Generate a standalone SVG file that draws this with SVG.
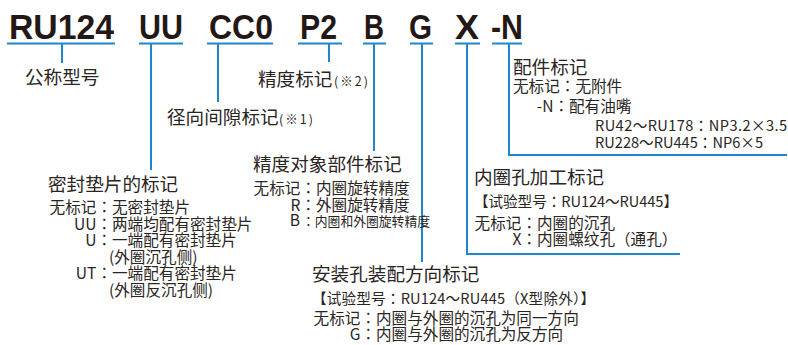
<svg xmlns="http://www.w3.org/2000/svg" width="788" height="345" viewBox="0 0 788 345">
<style>
text{font-family:"Noto Sans CJK JP","Noto Sans CJK SC",sans-serif;fill:#2a2523}
.code{font-family:"Liberation Sans",Arial,sans-serif;font-weight:bold;font-size:35px;fill:#231815}
.t{font-size:18.6px}
.s{font-size:15.6px}
.r{font-size:14.6px}
.xs{font-size:12.8px}
.n{font-size:12.5px}
.e{text-anchor:end}
.ln{fill:none;stroke:#1f86cc;stroke-width:2}
</style>
<rect width="788" height="345" fill="#fff"/>
<g id="code">
<text class="code" x="9" y="38.5" textLength="105" lengthAdjust="spacingAndGlyphs">RU124</text>
<text class="code" x="139" y="38.5" textLength="44" lengthAdjust="spacingAndGlyphs">UU</text>
<text class="code" x="209" y="38.5" textLength="64" lengthAdjust="spacingAndGlyphs">CC0</text>
<text class="code" x="300" y="38.5" textLength="37" lengthAdjust="spacingAndGlyphs">P2</text>
<text class="code" x="364" y="38.5" textLength="20" lengthAdjust="spacingAndGlyphs">B</text>
<text class="code" x="409" y="38.5" textLength="23" lengthAdjust="spacingAndGlyphs">G</text>
<text class="code" x="455" y="38.5" textLength="24" lengthAdjust="spacingAndGlyphs">X</text>
<text class="code" x="491" y="38.5" textLength="32" lengthAdjust="spacingAndGlyphs">-N</text>
</g>
<g id="connectors">
<path class="ln" d="M7 43.5H115M139 43.5H183M207 43.5H273M298 43.5H342M363 43.5H386M410 43.5H433M455 43.5H480M492 43.5H522"/>
<path class="ln" d="M62 43.5V63M151 43.5V170M218 43.5V102M329 43.5V62M374 43.5V151M422 43.5V262"/>
<path class="ln" d="M467 43.5V254H680"/>
<path class="ln" d="M509 43.5V155H787"/>
</g>
<g id="nominal">
<text class="t" x="25" y="83.5">公称型号</text>
</g>
<g id="seal">
<text class="t" x="48" y="190.5">密封垫片的标记</text>
<text class="s" y="213"><tspan class="e" x="112">无标记：</tspan><tspan x="112">无密封垫片</tspan></text>
<text class="s" y="229.5"><tspan class="e" x="112">UU：</tspan><tspan x="112">两端均配有密封垫片</tspan></text>
<text class="s" y="246"><tspan class="e" x="112">U：</tspan><tspan x="112">一端配有密封垫片</tspan></text>
<text class="s" x="109" y="262.5">(外圈沉孔侧)</text>
<text class="s" y="279"><tspan class="e" x="112">UT：</tspan><tspan x="112">一端配有密封垫片</tspan></text>
<text class="s" x="109" y="296">(外圈反沉孔侧)</text>
</g>
<g id="clearance">
<text x="167" y="124"><tspan class="t">径向间隙标记</tspan><tspan class="n" x="279" textLength="34">(※1)</tspan></text>
</g>
<g id="precision">
<text x="258" y="86"><tspan class="t">精度标记</tspan><tspan class="n" x="334" textLength="34">(※2)</tspan></text>
</g>
<g id="precision-part">
<text class="t" x="253" y="170.5">精度对象部件标记</text>
<text class="s" y="194"><tspan class="e" x="316">无标记：</tspan><tspan x="316">内圈旋转精度</tspan></text>
<text class="s" y="210.5"><tspan class="e" x="316">R：</tspan><tspan x="316">外圈旋转精度</tspan></text>
<text y="226"><tspan class="s e" x="300">B</tspan><tspan class="xs" x="302">：内圈和外圈旋转精度</tspan></text>
</g>
<g id="mounting">
<text class="t" x="312" y="281">安装孔装配方向标记</text>
<text class="r" x="312" y="303.5" textLength="283">【试验型号：RU124～RU445（X型除外）】</text>
<text class="s" y="324"><tspan class="e" x="376">无标记：</tspan><tspan x="376">内圈与外圈的沉孔为同一方向</tspan></text>
<text class="s" y="340"><tspan class="e" x="376">G：</tspan><tspan x="376">内圈与外圈的沉孔为反方向</tspan></text>
</g>
<g id="inner-hole">
<text class="t" x="474" y="183.5">内圈孔加工标记</text>
<text class="r" x="474" y="206.5" textLength="204">【试验型号：RU124～RU445】</text>
<text class="s" y="229"><tspan class="e" x="537">无标记：</tspan><tspan x="537">内圈的沉孔</tspan></text>
<text class="s" y="245"><tspan class="e" x="537">X：</tspan><tspan x="537">内圈螺纹孔（通孔）</tspan></text>
</g>
<g id="accessory">
<text class="t" x="513" y="73.5">配件标记</text>
<text class="s" x="513" y="92">无标记：无附件</text>
<text class="s" y="111.5"><tspan class="e" x="569">-N：</tspan><tspan x="569">配有油嘴</tspan></text>
<text class="r" x="595" y="131" textLength="192">RU42～RU178：NP3.2×3.5</text>
<text class="r" x="595" y="147.5" textLength="168">RU228～RU445：NP6×5</text>
</g>
</svg>
